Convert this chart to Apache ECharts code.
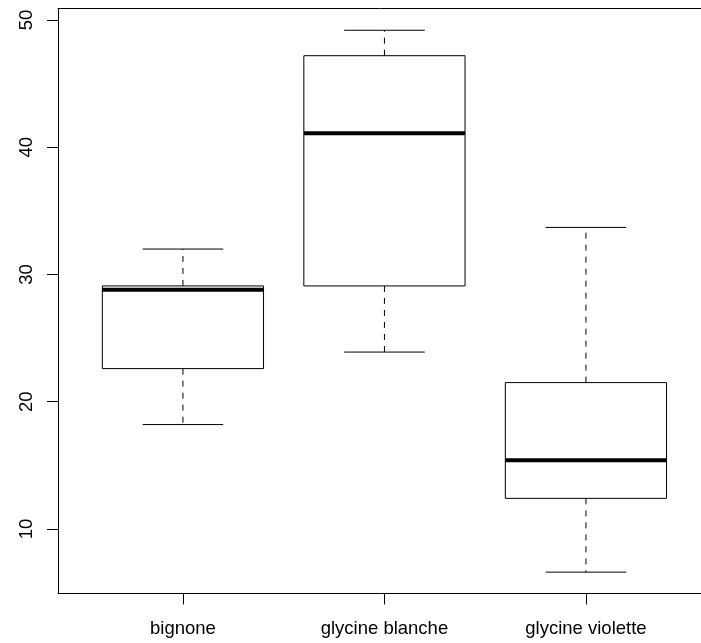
<!DOCTYPE html>
<html>
<head>
<meta charset="utf-8">
<script src="https://cdn.jsdelivr.net/npm/echarts@6/dist/echarts.min.js"></script>
<style>
  html, body { margin: 0; padding: 0; background: #fff; }
  #chart { width: 701px; height: 643px; }
</style>
</head>
<body>
<div id="chart"></div>
<script>
const categories = ['bignone', 'glycine blanche', 'glycine violette'];
const lowWhisker = [18.2, 23.9, 6.6];
const lowerQuartile = [22.6, 29.1, 12.4];
const medians = [28.8, 41.1, 15.4];
const upperQuartile = [29.1, 47.2, 21.5];
const highWhisker = [32.0, 49.2, 33.7];
const yTicks = [10, 20, 30, 40, 50];

const chart = echarts.init(document.getElementById('chart'));

const boxData = categories.map((c, i) => [
  i + 1, lowWhisker[i], lowerQuartile[i], medians[i], upperQuartile[i], highWhisker[i]
]);

const labelFont = {
  color: '#000',
  fontFamily: 'Liberation Sans',
  fontSize: 18.5
};

// R style box: dashed whiskers, staples, thick median
function renderBox(params, api) {
  const x = api.value(0);
  const half = api.size([0.8, 0])[0] / 2;
  const capHalf = half / 2;
  const pMin = api.coord([x, api.value(1)]);
  const pQ1 = api.coord([x, api.value(2)]);
  const pMed = api.coord([x, api.value(3)]);
  const pQ3 = api.coord([x, api.value(4)]);
  const pMax = api.coord([x, api.value(5)]);
  const cx = pMed[0];
  const dashed = { stroke: '#000', lineWidth: 1, lineDash: [6, 6] };
  const solid = { stroke: '#000', lineWidth: 1 };
  return {
    type: 'group',
    children: [
      { type: 'line', shape: { x1: cx, y1: pQ3[1], x2: cx, y2: pMax[1] }, style: dashed },
      { type: 'line', shape: { x1: cx, y1: pQ1[1], x2: cx, y2: pMin[1] }, style: dashed },
      { type: 'line', shape: { x1: cx - capHalf, y1: pMax[1], x2: cx + capHalf, y2: pMax[1] }, style: solid },
      { type: 'line', shape: { x1: cx - capHalf, y1: pMin[1], x2: cx + capHalf, y2: pMin[1] }, style: solid },
      {
        type: 'rect',
        shape: { x: cx - half, y: pQ3[1], width: half * 2, height: pQ1[1] - pQ3[1] },
        style: { fill: '#fff', stroke: '#000', lineWidth: 1 }
      },
      { type: 'line', shape: { x1: cx - half, y1: pMed[1], x2: cx + half, y2: pMed[1] }, style: { stroke: '#000', lineWidth: 4 } }
    ]
  };
}

const frameLine = { show: true, lineStyle: { color: '#000', width: 1 } };

const options = {
  animation: false,
  grid: {
    left: 58,
    top: 8.5,
    right: 0,
    height: 585
  },
  xAxis: [
    {
      type: 'value',
      min: 0.38,
      max: 3.571,
      splitLine: { show: false },
      axisLine: frameLine,
      axisTick: {
        show: true,
        customValues: [1, 2, 3],
        length: 11,
        lineStyle: { color: '#000' }
      },
      axisLabel: {
        ...labelFont,
        customValues: [1, 2, 3],
        margin: 26,
        formatter: (v) => categories[Math.round(v) - 1]
      }
    },
    {
      type: 'value',
      position: 'top',
      min: 0.38,
      max: 3.571,
      splitLine: { show: false },
      axisLine: frameLine,
      axisTick: { show: false },
      axisLabel: { show: false }
    }
  ],
  yAxis: {
    type: 'value',
    min: 4.92,
    max: 50.91,
    splitLine: { show: false },
    axisLine: frameLine,
    axisTick: {
      show: true,
      customValues: yTicks,
      length: 11,
      lineStyle: { color: '#000' }
    },
    axisLabel: {
      ...labelFont,
      customValues: yTicks,
      rotate: 90,
      align: 'center',
      verticalAlign: 'bottom',
      margin: 22
    }
  },
  series: [
    {
      type: 'custom',
      renderItem: renderBox,
      encode: { x: 0, y: [1, 2, 3, 4, 5] },
      data: boxData,
      clip: false
    }
  ]
};

chart.setOption(options);
</script>
</body>
</html>
